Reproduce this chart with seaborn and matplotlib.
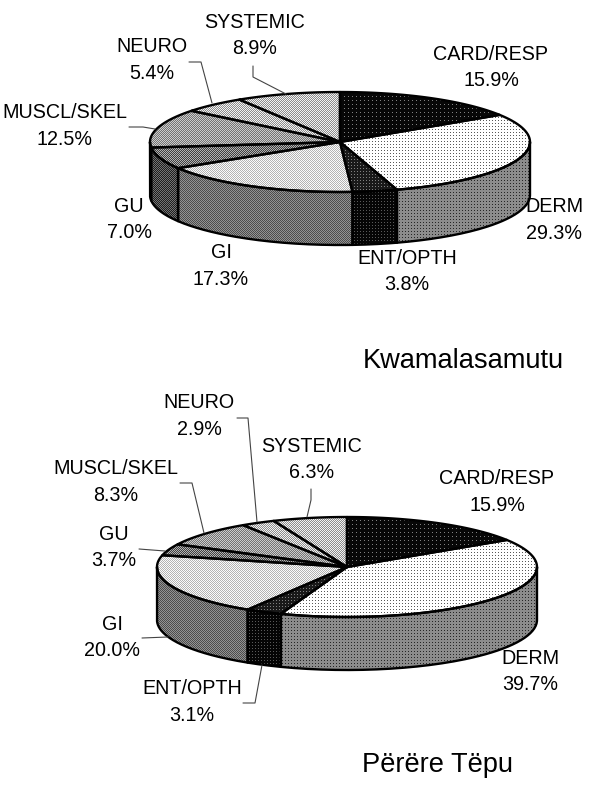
import numpy as np
import matplotlib
matplotlib.use("Agg")
import matplotlib.pyplot as plt
from matplotlib.patches import Polygon
import seaborn as sns

categories = ["CARD/RESP", "DERM", "ENT/OPTH", "GI", "GU", "MUSCL/SKEL", "NEURO", "SYSTEMIC"]
kwama_values = [15.9, 29.3, 3.8, 17.3, 7.0, 12.5, 5.4, 8.9]
perere_values = [15.9, 39.7, 3.1, 20.0, 3.7, 8.3, 2.9, 6.3]
kwama_title = "Kwamalasamutu"
perere_title = "Përëre Tëpu"

# base grey, dot grey, period
top_styles = [(0.03, 0.5, 4), (1.0, 0.35, 3), (0.1, 0.5, 3), (0.98, 0.7, 2),
              (0.25, 0.7, 2), (0.45, 0.8, 2), (0.55, 0.95, 2), (0.55, 0.95, 2)]
side_styles = [(0.05, 0.75, 4), (0.55, 0.15, 3), (0.02, 0.35, 3), (0.58, 0.3, 2),
               (0.12, 0.45, 2), (0.5, 0.85, 2), (0.55, 0.95, 2), (0.55, 0.95, 2)]

RX, RY, DEPTH = 190, 50, 53
W, H = 600, 786

sns.set_theme(style="white")
plt.rcParams["font.family"] = ["Liberation Sans", "DejaVu Sans"]
LABEL_SIZE = 14.2
TITLE_SIZE = 19.6


def make_texture(base, dot, period):
    tile = np.full((period, period), base, dtype=float)
    tile[0, 0] = dot
    if period == 2:
        tile[1, 1] = dot
    ny = H // period + 1
    nx = W // period + 1
    return np.tile(tile, (ny, nx))[:H, :W]


def textured(ax, pts, style):
    patch = Polygon(pts, closed=True, facecolor="none", edgecolor="none")
    ax.add_patch(patch)
    im = ax.imshow(make_texture(*style), cmap="gray", vmin=0, vmax=1,
                   extent=(0, W, H, 0), interpolation="bilinear", zorder=patch.get_zorder())
    im.set_clip_path(patch)


def outline(ax, pts, lw=1.7, color="black"):
    pts = np.asarray(pts)
    sns.lineplot(x=pts[:, 0], y=pts[:, 1], sort=False, estimator=None, ax=ax,
                 color=color, linewidth=lw, zorder=5)


def draw_pie(ax, values, cx, cy):
    stops = np.cumsum([0] + list(values))
    stops = stops / stops[-1] * 360

    def rim(a0, a1, dy=0):
        t = np.radians(np.linspace(a0, a1, 80))
        return np.column_stack([cx + RX * np.sin(t), cy - RY * np.cos(t) + dy])

    # walls first, only the front half shows
    for i in range(len(values)):
        a0, a1 = max(stops[i], 90), min(stops[i + 1], 270)
        if a1 <= a0:
            continue
        top = rim(a0, a1)
        bottom = rim(a1, a0, DEPTH)
        pts = np.vstack([top, bottom, top[:1]])
        textured(ax, pts, side_styles[i])
        outline(ax, pts)

    for i in range(len(values)):
        pts = np.vstack([[[cx, cy]], rim(stops[i], stops[i + 1]), [[cx, cy]]])
        textured(ax, pts, top_styles[i])
        outline(ax, pts)


def put_labels(ax, values, centers):
    for name, v, (x, y) in zip(categories, values, centers):
        ax.text(x, y, name, ha="center", va="center", fontsize=LABEL_SIZE, color="black")
        ax.text(x, y + 26.5, f"{v:.1f}%", ha="center", va="center", fontsize=LABEL_SIZE, color="black")


def leaders(ax, lines):
    for line in lines:
        outline(ax, line, lw=0.8, color="#444444")


fig = plt.figure(figsize=(W / 100, H / 100), dpi=100)
ax = fig.add_axes([0, 0, 1, 1])

draw_pie(ax, kwama_values, 340, 142)
draw_pie(ax, perere_values, 347, 567)

put_labels(ax, kwama_values, [(491, 54), (554, 207), (407, 258), (221, 253),
                              (129, 206), (65, 113), (152, 47), (255, 22)])
put_labels(ax, perere_values, [(497, 479), (530, 658), (192, 689), (112, 624),
                               (114, 534), (116, 469), (199, 403), (312, 446)])

leaders(ax, [[(253, 66), (253, 77), (286, 94)],
             [(189, 62), (201, 62), (212, 103)],
             [(129, 127), (143, 127), (155, 129)],
             [(180, 483), (192, 483), (204, 533)],
             [(237, 418), (248, 418), (257, 522)],
             [(311, 489), (311, 500), (307, 517)],
             [(139, 549), (165, 551)],
             [(142, 638), (168, 637)],
             [(262, 665), (255, 703), (243, 703)]])

ax.text(363, 368, kwama_title, ha="left", va="baseline", fontsize=TITLE_SIZE, color="black")
ax.text(362, 771.5, perere_title, ha="left", va="baseline", fontsize=TITLE_SIZE, color="black")

ax.set_xlim(0, W)
ax.set_ylim(H, 0)
ax.set_aspect("auto")
ax.axis("off")
fig.savefig("out.png", dpi=100, facecolor="white")
